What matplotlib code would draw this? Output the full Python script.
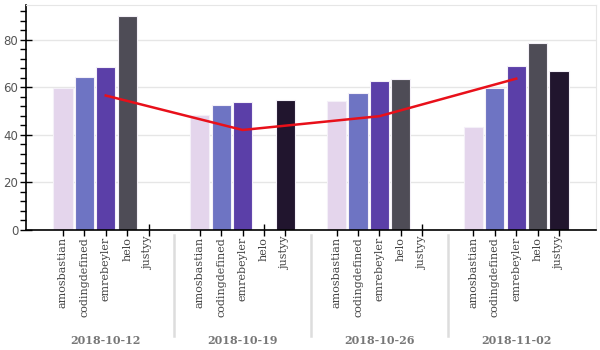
import numpy as np
import matplotlib.pyplot as plt
from matplotlib.ticker import MultipleLocator

weeks = ['2018-10-12', '2018-10-19', '2018-10-26', '2018-11-02']
users = ['amosbastian', 'codingdefined', 'emrebeyler', 'helo', 'justyy']

# one list per user, values per week (0 = no bar)
amosbastian = [59.8, 48.4, 54.3, 43.4]
codingdefined = [64.4, 52.5, 57.8, 59.7]
emrebeyler = [68.6, 53.8, 62.6, 69.1]
helo = [90.1, 0, 63.7, 78.6]
justyy = [0, 54.9, 0, 67.1]
# weekly average line (drawn at the middle category of each week)
weekly_avg = [56.6, 42.1, 47.9, 63.7]

colors = ['#e4d5ec', '#6e74c3', '#5b3fa8', '#4e4c56', '#21152e']
series = [amosbastian, codingdefined, emrebeyler, helo, justyy]

group_step = len(users) - 1 + 2.4  # bokeh-like group padding

fig = plt.figure(figsize=(6, 3.5), dpi=100)
ax = fig.add_axes([26 / 600, 1 - 230 / 350, 570 / 600, 225 / 350])

xs_all = []
for u, (vals, c) in enumerate(zip(series, colors)):
    x = np.arange(len(weeks)) * group_step + u
    xs_all.append(x)
    ax.bar(x, vals, width=0.9, color=c, edgecolor='#f4f0f8', linewidth=0.8, zorder=2)

mid = np.arange(len(weeks)) * group_step + 2
ax.plot(mid, weekly_avg, color='#e8101a', linewidth=1.8, zorder=3)

ax.set_xlim(-1.73, (len(weeks) - 1) * group_step + 4 + 1.73)
ax.set_ylim(0, 94.7)

# y axis
ax.yaxis.set_major_locator(MultipleLocator(20))
ax.yaxis.set_minor_locator(MultipleLocator(4))
ax.tick_params(axis='y', which='major', direction='inout', length=9, width=1,
               labelsize=8.5, labelcolor='#555555', pad=1)
ax.tick_params(axis='y', which='minor', direction='out', length=4, width=1)
ax.grid(axis='y', color='#e6e6e6', linewidth=1, zorder=0)
ax.set_axisbelow(True)

# x axis: category ticks
xt = np.sort(np.concatenate(xs_all))
ax.set_xticks(xt)
ax.set_xticklabels(users * len(weeks), rotation=90, family='DejaVu Serif',
                   fontsize=8, color='#444444')
ax.tick_params(axis='x', direction='inout', length=8, width=1, pad=1)

for side in ['top', 'right']:
    ax.spines[side].set_color('#e6e6e6')
for side in ['left', 'bottom']:
    ax.spines[side].set_color('black')
    ax.spines[side].set_linewidth(1.2)

# group labels and separators
trans = ax.get_xaxis_transform()
for g, w in enumerate(weeks):
    ax.text(g * group_step + 2, -0.489, w, transform=trans, ha='center', va='center',
            family='DejaVu Serif', fontsize=8, fontweight='bold', color='#777777',
            clip_on=False)
    if g > 0:
        sx = g * group_step - 1.2
        ax.plot([sx, sx], [-0.02, -0.47], transform=trans, color='#dddddd',
                linewidth=1.8, clip_on=False)

fig.savefig('out.png', dpi=100)
